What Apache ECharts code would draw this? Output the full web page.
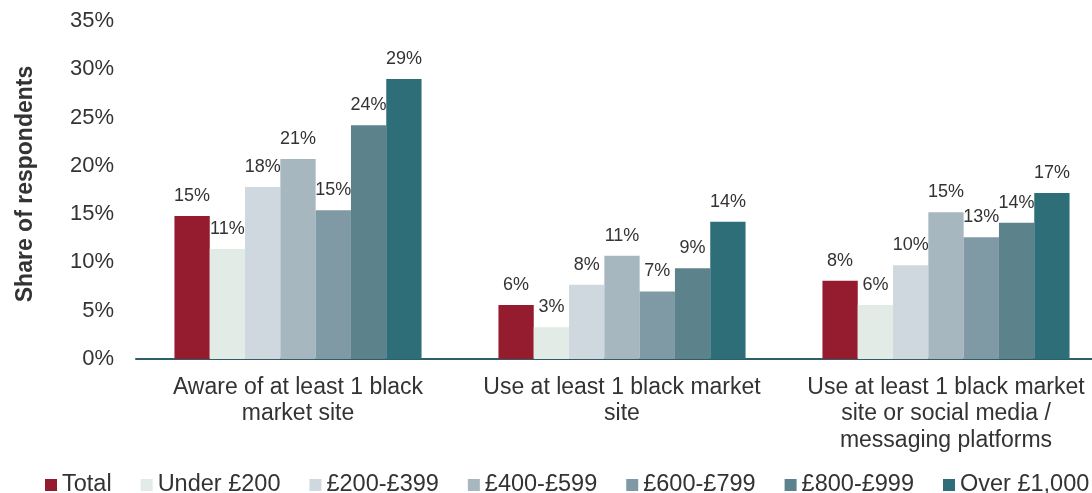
<!DOCTYPE html>
<html>
<head>
<meta charset="utf-8">
<title>Black market site awareness and use by spend</title>
<script src="https://cdn.jsdelivr.net/npm/echarts@6/dist/echarts.min.js"></script>
<style>
  html, body { margin: 0; padding: 0; background: #ffffff; overflow: hidden; width: 1092px; height: 493px; }
  /* the plot runs slightly past the right edge of the view */
  #chart { width: 1108px; height: 493px; }
</style>
</head>
<body>
<div id="chart"></div>
<script>
// Question groups shown along the x axis
const categories = [
  'Aware of at least 1 black\nmarket site',
  'Use at least 1 black market\nsite',
  'Use at least 1 black market\nsite or social media /\nmessaging platforms'
];

// Spend bands (legend order)
const seriesNames = ['Total', 'Under £200', '£200-£399', '£400-£599', '£600-£799', '£800-£999', 'Over £1,000'];

// Share of respondents (%) per spend band, one value per question group
const total     = [14.8, 5.6, 8.1];
const under200  = [11.4, 3.3, 5.6];
const band200   = [17.8, 7.7, 9.7];
const band400   = [20.7, 10.7, 15.2];
const band600   = [15.4, 7.0, 12.6];
const band800   = [24.2, 9.4, 14.1];
const over1000  = [29.0, 14.2, 17.2];

// Y axis range and step (%)
const yMin = 0, yMax = 35, yStep = 5;

const seriesValues = [total, under200, band200, band400, band600, band800, over1000];
const palette = ['#951b2f', '#e2ebe5', '#cfd8df', '#a7b7bf', '#7f9aa4', '#5c838c', '#2e6e78'];

const FONT = "'Liberation Sans', Arial, Helvetica, sans-serif";
const TEXT = '#333333';

const chart = echarts.init(document.getElementById('chart'), null, { renderer: 'canvas' });

chart.setOption({
  animation: false,
  backgroundColor: '#ffffff',
  color: palette,
  textStyle: { fontFamily: FONT },
  grid: { left: 136, top: 21, right: 0, height: 338, containLabel: false },
  legend: {
    data: seriesNames,
    left: 40,
    top: 468,
    icon: 'rect',
    itemWidth: 12,
    itemHeight: 12,
    itemGap: 29,
    textStyle: { fontSize: 23.5, color: TEXT, fontFamily: FONT }
  },
  graphic: [{
    type: 'text',
    x: 26,
    y: 184,
    rotation: Math.PI / 2,
    style: {
      text: 'Share of respondents',
      fill: TEXT,
      font: "bold 23px 'Liberation Sans', Arial, sans-serif",
      textAlign: 'center',
      textVerticalAlign: 'middle'
    }
  }],
  xAxis: {
    type: 'category',
    data: categories,
    axisLine: { show: true, lineStyle: { color: '#2d5f69', width: 2 } },
    axisTick: { show: false },
    axisLabel: {
      interval: 0,
      margin: 15,
      fontSize: 23,
      lineHeight: 26.5,
      color: TEXT,
      fontFamily: FONT,
      align: 'center'
    }
  },
  yAxis: {
    type: 'value',
    min: yMin,
    max: yMax,
    interval: yStep,
    axisLine: { show: false },
    axisTick: { show: false },
    splitLine: { show: false },
    axisLabel: {
      formatter: '{value}%',
      margin: 22,
      fontSize: 22,
      color: TEXT,
      fontFamily: FONT
    }
  },
  series: seriesNames.map((name, i) => ({
    name: name,
    type: 'bar',
    data: seriesValues[i],
    barWidth: 35.3,
    barGap: '0%',
    itemStyle: { color: palette[i] },
    label: {
      show: true,
      position: 'top',
      distance: 11,
      fontSize: 18,
      color: TEXT,
      fontFamily: FONT,
      formatter: p => Math.round(p.value) + '%'
    }
  }))
});
</script>
</body>
</html>
